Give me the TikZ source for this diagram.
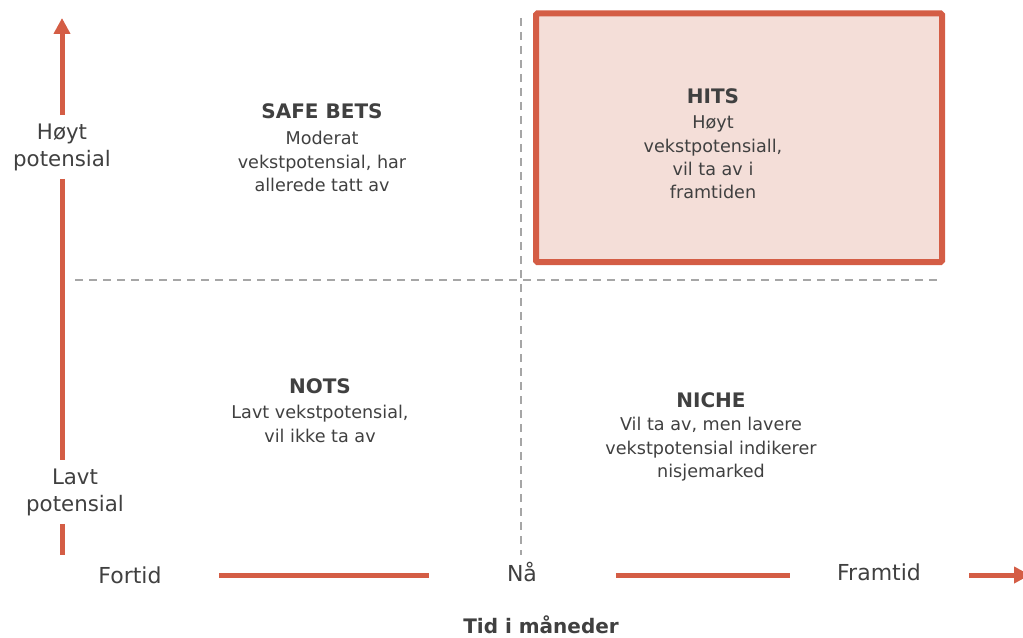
\documentclass[tikz,border=0pt]{standalone}
\usepackage{fontspec}
\setmainfont{DejaVu Sans}
\usetikzlibrary{arrows.meta}
\definecolor{axisred}{HTML}{D45D45}
\definecolor{hitsfill}{HTML}{F4DED8}
\definecolor{textgray}{HTML}{404040}
\definecolor{dashgray}{HTML}{A6A6A6}
\tikzset{
  axisline/.style={draw=axisred, line width=3.75pt},
  gridline/.style={draw=dashgray, line width=2pt, dash pattern=on 6pt off 4.5pt},
  axislabel/.style={text=textgray, font=\fontsize{16}{20.25}\selectfont, align=center, inner sep=6pt},
  timelabel/.style={text=textgray, font=\fontsize{16.5}{20}\selectfont, inner sep=0pt},
  quadtitle/.style={text=textgray, font=\bfseries\fontsize{15}{18}\selectfont, inner sep=0pt},
  quadtext/.style={text=textgray, font=\fontsize{13.2}{17.6}\selectfont, align=center, inner sep=0pt},
}

\begin{document}
\begin{tikzpicture}[x=0.75pt, y=-0.75pt, >={Triangle[length=12pt,width=12pt]}]
      \useasboundingbox (0,0) rectangle (1023,638);
      % highlighted quadrant
      \draw[draw=axisred, fill=hitsfill, line width=4.5pt, rounded corners=1pt] (536,13.5) rectangle (942,262);
      % quadrant grid
      \draw[gridline] (521,18) -- (521,555);
      \draw[gridline] (75,280) -- (942,280);
      % vertical axis
      \coordinate (ytop) at (62,18);
      \coordinate (ybot) at (62,555);
      \node[axislabel] (hoyt) at (62,147) {Høyt\\potensial};
      \node[axislabel] (lavt) at (75,492) {Lavt\\potensial};
      \draw[axisline,->] (hoyt) -- (ytop);
      \draw[axisline] (hoyt.south) -- (lavt.north -| hoyt.south);
      \draw[axisline] (lavt.south -| ybot) -- (ybot);
      % horizontal axis
      \coordinate (xend) at (1030,575);
      \node[timelabel] (fortid) at (130,575) {Fortid};
      \node[timelabel] (naa) at (522,572) {Nå};
      \node[timelabel] (framtid) at (879,572) {Framtid};
      \draw[axisline, shorten <=43pt, shorten >=58pt] (fortid.east) -- (naa.west |- fortid.east);
      \draw[axisline, shorten <=59pt, shorten >=35pt] (naa.east |- fortid.east) -- (framtid.west |- fortid.east);
      \draw[axisline, shorten <=36pt, ->] (framtid.east |- fortid.east) -- (xend);
      \node[quadtitle] (xtitle) at (541,625) {Tid i måneder};
      % quadrant texts
      \node[quadtitle] (safe) at (322,111) {SAFE BETS};
      \node[quadtext] (safetext) at (322,161.5) {Moderat\\vekstpotensial, har\\allerede tatt av};
      \node[quadtitle] (hits) at (713,96) {HITS};
      \node[quadtext] (hitstext) at (713,157.5) {Høyt\\vekstpotensiall,\\vil ta av i\\framtiden};
      \node[quadtitle] (nots) at (320,386) {NOTS};
      \node[quadtext] (notstext) at (320,424) {Lavt vekstpotensial,\\vil ikke ta av};
      \node[quadtitle] (niche) at (711,400) {NICHE};
      \node[quadtext] (nichetext) at (711,449.5) {Vil ta av, men lavere\\vekstpotensial indikerer\\nisjemarked};
\end{tikzpicture}
\end{document}
